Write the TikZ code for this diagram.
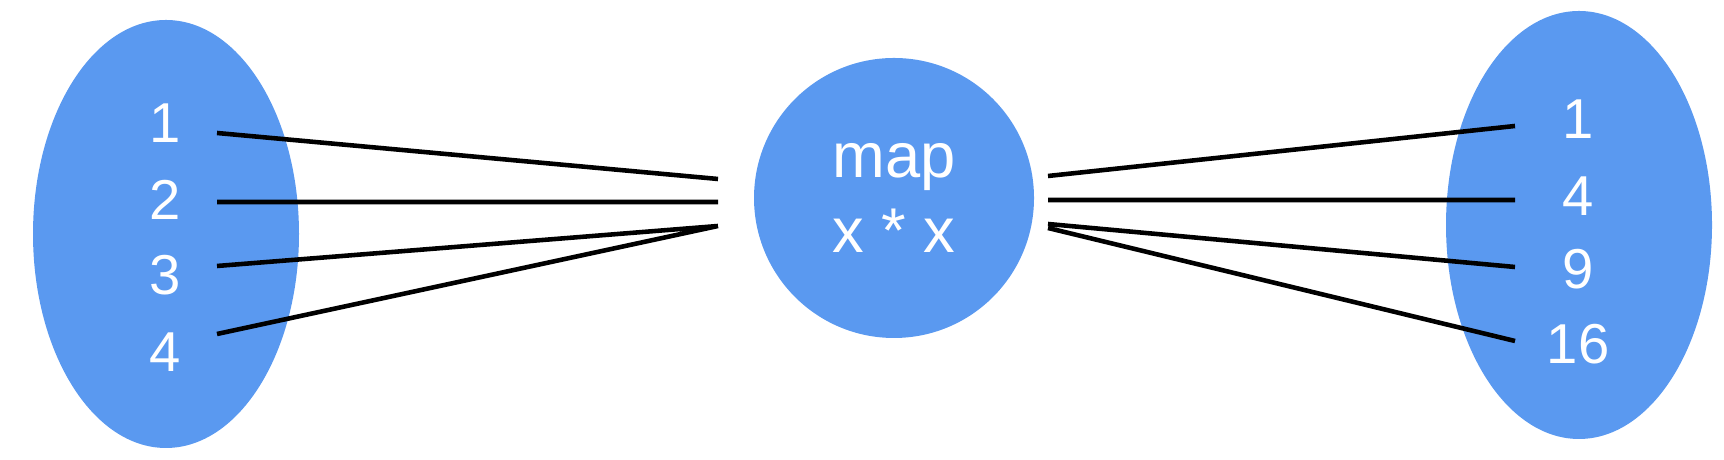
\documentclass[tikz,border=0pt]{standalone}
\usepackage{fontspec}
\setmainfont{Liberation Sans}
\usetikzlibrary{shapes.geometric}
\definecolor{setblue}{RGB}{90,153,240}

\begin{document}
\begin{tikzpicture}[
    setv/.style   = {ellipse, fill=setblue, minimum width=2.66cm, minimum height=4.28cm, inner sep=0pt},
    mapv/.style   = {circle, fill=setblue, minimum size=2.8cm, inner sep=0pt, text=white, align=center,
                     font=\fontsize{18}{21.5}\selectfont},
    num/.style    = {text=white, inner sep=0pt, font=\fontsize{16}{19}\selectfont},
    link/.style   = {line width=1.3pt}
    ]
      \useasboundingbox (0,0) rectangle (17.24,4.6);

      % sets and map ---------------------------------------------
      \node[setv] (dom) at (1.66,2.26)  {};
      \node[setv] (cod) at (15.79,2.35) {};
      \node[mapv] (f)   at (8.94,2.62)  {map\\x * x};

      % elements -------------------------------------------------
      \node[num] (a1) at (1.65,3.37)  {1};
      \node[num] (a2) at (1.65,2.60)  {2};
      \node[num] (a3) at (1.65,1.85)  {3};
      \node[num] (a4) at (1.65,1.08)  {4};
      \node[num] (b1) at (15.78,3.41) {1};
      \node[num] (b2) at (15.78,2.64) {4};
      \node[num] (b3) at (15.78,1.91) {9};
      \node[num] (b4) at (15.78,1.16) {16};

      % line ends ------------------------------------------------
      \coordinate (l1) at (2.17,3.27);
      \coordinate (l2) at (2.17,2.58);
      \coordinate (l3) at (2.17,1.94);
      \coordinate (l4) at (2.17,1.26);
      \coordinate (p1) at (7.18,2.81);
      \coordinate (p2) at (7.18,2.58);
      \coordinate (p3) at (7.18,2.34);
      \coordinate (q1) at (10.48,2.84);
      \coordinate (q2) at (10.48,2.60);
      \coordinate (q3) at (10.48,2.36);
      \coordinate (q4) at (10.48,2.32);
      \coordinate (r1) at (15.15,3.34);
      \coordinate (r2) at (15.15,2.60);
      \coordinate (r3) at (15.15,1.93);
      \coordinate (r4) at (15.15,1.19);

      % edges ----------------------------------------------------
      \draw[link] (l1) -- (p1)
                  (l2) -- (p2)
                  (l3) -- (p3)
                  (l4) -- (p3)
                  (q1) -- (r1)
                  (q2) -- (r2)
                  (q3) -- (r3)
                  (q4) -- (r4);
    \end{tikzpicture}
\end{document}
